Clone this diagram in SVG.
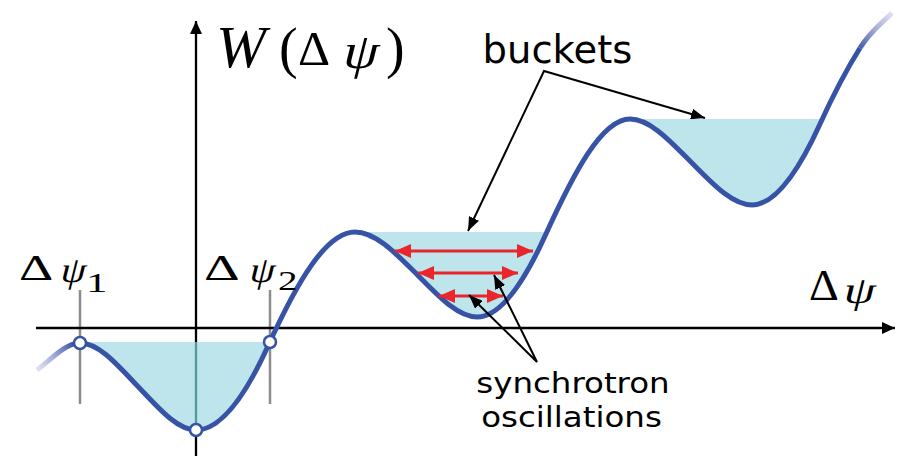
<svg xmlns="http://www.w3.org/2000/svg" width="897" height="456" viewBox="0 0 897 456">
<style>
.curve{fill:none;stroke:#3653a5;stroke-width:5}
.fill{fill:#bee4ec;stroke:none}
.axis{stroke:#000;stroke-width:2.3;fill:none}
.guide{stroke:#8c8c8c;stroke-width:2.5}
.pt{fill:#fff;stroke:#3653a5;stroke-width:2.5}
.red{stroke:#e8262b;stroke-width:3;fill:none}
.ann{stroke:#000;stroke-width:2;fill:none}
.math{font-family:"Liberation Serif","Times New Roman",serif;fill:#000}
.it{font-style:italic}
.lbl{font-family:"DejaVu Sans",Verdana,sans-serif;fill:#000}
</style>
<defs>
<marker id="axArrow" markerUnits="userSpaceOnUse" viewBox="0 0 13 12" refX="13" refY="6" markerWidth="13" markerHeight="12" orient="auto"><path d="M0,0 L13,6 L0,12 Z" fill="#000"/></marker>
<marker id="redArrow" markerUnits="userSpaceOnUse" viewBox="0 0 16 14" refX="16" refY="7" markerWidth="16" markerHeight="14" orient="auto-start-reverse"><path d="M0,0 L16,7 L0,14 Z" fill="#e8262b"/></marker>
<marker id="blkArrow" markerUnits="userSpaceOnUse" viewBox="0 0 14 11" refX="14" refY="5.5" markerWidth="14" markerHeight="11" orient="auto-start-reverse"><path d="M0,0 L14,5.5 L0,11 Z" fill="#000"/></marker>
<linearGradient id="fadeL" gradientUnits="userSpaceOnUse" x1="37" y1="370" x2="74" y2="345"><stop offset="0" stop-color="#c8c2ea" stop-opacity="0.5"/><stop offset="1" stop-color="#3653a5"/></linearGradient>
<linearGradient id="fadeR" gradientUnits="userSpaceOnUse" x1="858" y1="50" x2="893" y2="12"><stop offset="0" stop-color="#3653a5"/><stop offset="1" stop-color="#c8c2ea" stop-opacity="0.5"/></linearGradient>
</defs>

<g id="guides">
<line class="guide" x1="80" y1="290" x2="80" y2="404"/>
<line class="guide" x1="270" y1="290" x2="270" y2="404"/>
</g>

<g id="axes">
<line class="axis" x1="36" y1="328" x2="895" y2="328" marker-end="url(#axArrow)"/>
<line class="axis" x1="196" y1="456" x2="196" y2="21" marker-end="url(#axArrow)"/>
</g>

<g id="bucket1">
<path class="fill" d="M80,342 L80,343 C99.33,343 118.67,366.2 138,386.5 C157.33,406.8 176.67,430 196,430 C220,430 244,398.8 268,346 L270,342 Z"/>
<line x1="196" y1="342" x2="196" y2="430" stroke="#4f9a9c" stroke-width="2.3"/>
</g>
<g id="bucket2">
<path class="fill" d="M355,232 C375.67,232 396.33,253.83 417,274.5 C437,294.5 457,317 477,317 C499.67,317 522.33,285.87 545,236 L547,232 Z"/>
</g>
<g id="bucket3">
<path class="fill" d="M630,119 C650.33,119 670.67,141.67 691,162 C711.33,182.33 731.67,205 752,205 C774.67,205 797.33,173.87 820,124 L822,119 Z"/>
</g>

<g id="potential">
<path d="M37,370 C51.33,359.25 65.67,343 80,343" fill="none" stroke="url(#fadeL)" stroke-width="5"/>
<path class="curve" d="M80,343 C99.33,343 118.67,366.2 138,386.5 C157.33,406.8 176.67,430 196,430 C220,430 244,398.8 268,346 C297,282.2 326,232 355,232 C375.67,232 396.33,253.83 417,274.5 C437,294.5 457,317 477,317 C499.67,317 522.33,285.87 545,236 C573.33,173.7 601.67,119 630,119 C650.33,119 670.67,141.67 691,162 C711.33,182.33 731.67,205 752,205 C774.67,205 797.33,173.87 820,124 C833.33,94.7 846.67,69.3 860,48"/>
<path d="M860,48 C870.67,30.9 881.33,23.7 892,13" fill="none" stroke="url(#fadeR)" stroke-width="5"/>
</g>

<g id="points">
<circle class="pt" cx="80" cy="343" r="6"/>
<circle class="pt" cx="196" cy="430" r="6"/>
<circle class="pt" cx="270" cy="342" r="6"/>
</g>

<g id="oscillations">
<line class="red" x1="395" y1="251" x2="533" y2="251" marker-start="url(#redArrow)" marker-end="url(#redArrow)"/>
<line class="red" x1="418" y1="273" x2="518" y2="273" marker-start="url(#redArrow)" marker-end="url(#redArrow)"/>
<line class="red" x1="439" y1="296" x2="503" y2="296" marker-start="url(#redArrow)" marker-end="url(#redArrow)"/>
</g>

<g id="connectors">
<path class="ann" d="M468,231 L544,71 L705,118" marker-start="url(#blkArrow)" marker-end="url(#blkArrow)"/>
<path class="ann" d="M469,295 L537,362 L494,275" marker-start="url(#blkArrow)" marker-end="url(#blkArrow)"/>
</g>

<g id="label-buckets">
<text class="lbl" x="557.5" y="63" font-size="38.5" text-anchor="middle">buckets</text>
</g>
<g id="label-synchrotron">
<text class="lbl" font-size="29" text-anchor="middle" transform="translate(573,393) scale(1.12,1)">synchrotron</text>
<text class="lbl" font-size="29" text-anchor="middle" transform="translate(571.5,427) scale(1.12,1)">oscillations</text>
</g>

<g id="label-W">
<text class="math it" x="216" y="67" font-size="60">W</text>
<text class="math" x="279" y="67" font-size="56">(</text>
<text class="math" font-size="48" transform="translate(298,65) scale(1.04,1)">Δ</text>
<text class="math" font-size="50" transform="translate(341,68) skewX(-14) scale(1.1,1)">ψ</text>
<text class="math" x="386" y="67" font-size="56">)</text>
</g>

<g id="label-dpsi">
<text class="math" font-size="45" transform="translate(809,300) scale(1.03,1)">Δ</text>
<text class="math" font-size="38" transform="translate(842,303) skewX(-14) scale(1.3,1)">ψ</text>
</g>

<g id="label-dpsi1">
<text class="math" font-size="36" transform="translate(19,280) scale(1.48,1)">Δ</text>
<text class="math" font-size="36" transform="translate(59,282) skewX(-14) scale(1.1,1)">ψ</text>
<text class="math" font-size="27" transform="translate(86,292) scale(1.6,1)">1</text>
</g>

<g id="label-dpsi2">
<text class="math" font-size="36" transform="translate(204,280) scale(1.54,1)">Δ</text>
<text class="math" font-size="36" transform="translate(248,282) skewX(-14) scale(1.1,1)">ψ</text>
<text class="math" font-size="27" transform="translate(278,290) scale(1.45,1)">2</text>
</g>
</svg>
